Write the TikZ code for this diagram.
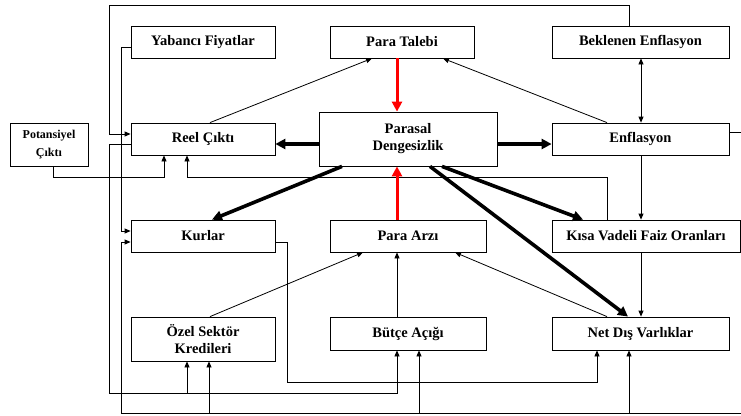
\documentclass[tikz,border=0pt]{standalone}
\usepackage{fontspec}
\setmainfont{Liberation Serif}
\usetikzlibrary{arrows.meta}
\begin{document}
\begin{tikzpicture}[x=1pt,y=-1pt,
  box/.style={draw=black, line width=0.8pt, rectangle, inner sep=0pt, align=center,
    font=\fontsize{14.5}{17}\selectfont\bfseries},
  smallbox/.style={box, font=\fontsize{12}{17.5}\selectfont\bfseries},
  thinarr/.style={line width=0.8pt, -{Triangle[length=6pt,width=5pt]}},
  thinline/.style={line width=0.8pt},
  dblarr/.style={line width=0.8pt, {Triangle[length=6pt,width=5pt]}-{Triangle[length=6pt,width=5pt]}},
  thickarr/.style={line width=3.6pt, -{Triangle[length=10pt,width=10pt]}},
  redarr/.style={draw=red, line width=3pt, -{Triangle[length=10pt,width=10pt]}},
]
\fill[white] (0,0) rectangle (741,415);
\useasboundingbox (0,0) rectangle (741,415);

% boxes
\node[box, minimum width=144pt, minimum height=32pt] (yf) at (203,42) {Yabancı Fiyatlar};
\node[box, minimum width=144pt, minimum height=32pt] (pt) at (402,42) {Para Talebi};
\node[box, minimum width=177pt, minimum height=32pt] (be) at (640.5,42) {Beklenen Enflasyon};
\node[smallbox, minimum width=78pt, minimum height=43pt] (pc) at (49,144.5) {Potansiyel\\Çıktı};
\node[box, minimum width=144pt, minimum height=32pt] (rc) at (203,139) {Reel Çıktı};
\node[box, minimum width=178pt, minimum height=54pt] (pd) at (408,139) {Parasal\\Dengesizlik};
\node[box, minimum width=177pt, minimum height=32pt] (en) at (640.5,139) {Enflasyon};
\node[box, minimum width=144pt, minimum height=32pt] (ku) at (203,236) {Kurlar};
\node[box, minimum width=156pt, minimum height=32pt] (pa) at (408,236) {Para Arzı};
\node[box, minimum width=188pt, minimum height=32pt] (kv) at (646,236) {Kısa Vadeli Faiz Oranları};
\node[box, minimum width=144pt, minimum height=44pt] (os) at (203,339) {Özel Sektör\\Kredileri};
\node[box, minimum width=156pt, minimum height=33pt] (ba) at (408,333.5) {Bütçe Açığı};
\node[box, minimum width=177pt, minimum height=33pt] (nd) at (640.5,333.5) {Net Dış Varlıklar};

% branch points
\coordinate (j1) at (187,393);
\coordinate (j2) at (629,413);
\coordinate (j3) at (419,413);
\coordinate (j4) at (209,413);
\coordinate (rE) at (741,413);
\coordinate (rT) at (741,132);

% top loop: Beklenen Enflasyon -> Reel Cikti
\draw[thinarr] (629,0 |- be.north) |- (109,5) |- (rc.west |- 0,134);
% Yabanci Fiyatlar -> Kurlar
\draw[thinarr] (yf.west |- 0,47) -| (121,231) -- (ku.west |- 0,231);
% Reel Cikti -> Ozel Sektor, Butce Acigi
\draw[thinarr] (rc.west |- 0,144) -| (109,393) -| (397,0 |- ba.south);
\draw[thinarr] (j1) -- (j1 |- os.south);
% bottom line from the right edge
\draw[thinarr] (rE) -| (121,242) -- (ku.west |- 0,242);
\draw[thinarr] (j2) -- (j2 |- nd.south);
\draw[thinarr] (j3) -- (j3 |- ba.south);
\draw[thinarr] (j4) -- (j4 |- os.south);
% Enflasyon -> right edge
\draw[thinline] (en.east |- rT) -- (rT);
% Kurlar -> Net Dis Varliklar
\draw[thinarr] (ku.east |- 0,242) -| (287,382) -| (597,0 |- nd.south);
% Potansiyel Cikti -> Reel Cikti
\draw[thinarr] (53,0 |- pc.south) |- (164,177) -- (164,0 |- rc.south);
% Kisa Vadeli -> Reel Cikti
\draw[thinarr] (607,0 |- kv.north) |- (187,177) -- (187,0 |- rc.south);

% thin diagonals
\draw[thinarr] (210,0 |- rc.north) -- (372,0 |- pt.south);
\draw[thinarr] (607,0 |- en.north) -- (443,0 |- pt.south);
\draw[thinarr] (607,0 |- nd.north) -- (455,0 |- pa.south);
\draw[thinarr] (210,0 |- os.north) -- (363,0 |- pa.south);
\draw[thinarr] (397,0 |- ba.north) -- (397,0 |- pa.south);

% verticals on the right
\draw[dblarr] (641,0 |- be.south) -- (641,0 |- en.north);
\draw[thinarr] (641,0 |- en.south) -- (641,0 |- kv.north);
\draw[thinarr] (641,0 |- kv.south) -- (641,0 |- nd.north);

% red arrows
\draw[redarr] (397,0 |- pt.south) -- (397,0 |- pd.north);
\draw[redarr] (397,0 |- pa.north) -- (397,0 |- pd.south);

% thick arrows
\draw[thickarr] (pd.west |- 0,144) -- (rc.east |- 0,144);
\draw[thickarr] (pd.east |- 0,144) -- (en.west |- 0,144);
\draw[thickarr] (342,0 |- pd.south) -- (212,0 |- ku.north);
\draw[thickarr] (442,0 |- pd.south) -- (583,0 |- kv.north);
\draw[thickarr] (430,0 |- pd.south) -- (628,0 |- nd.north);
\end{tikzpicture}
\end{document}
